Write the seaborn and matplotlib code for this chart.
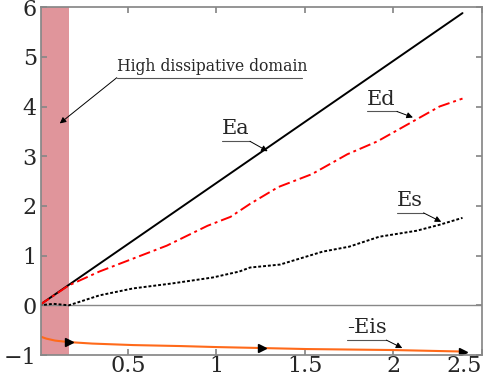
import pandas as pd
import seaborn as sns
import matplotlib.pyplot as plt

# Energy curves
t_ea = [0.0, 2.39]
ea = [0.0, 5.88]

t_ed = [0.0, 0.167, 0.34, 0.53, 0.72, 0.95, 1.08, 1.19, 1.35, 1.54, 1.74, 1.91, 2.11, 2.26, 2.39]
ed = [0.0, 0.40, 0.68, 0.94, 1.20, 1.60, 1.78, 2.04, 2.38, 2.64, 3.04, 3.30, 3.70, 4.00, 4.16]

t_es = [0.0, 0.08, 0.167, 0.34, 0.53, 0.75, 0.98, 1.13, 1.19, 1.36, 1.60, 1.75, 1.92, 2.13, 2.26, 2.39]
es = [0.0, 0.03, 0.0, 0.20, 0.34, 0.44, 0.56, 0.68, 0.76, 0.82, 1.08, 1.18, 1.38, 1.50, 1.62, 1.76]

t_eis = [0.0, 0.04, 0.09, 0.167, 0.30, 0.53, 0.80, 1.00, 1.26, 1.51, 2.00, 2.39]
eis = [-0.62, -0.67, -0.71, -0.74, -0.77, -0.80, -0.82, -0.84, -0.86, -0.88, -0.90, -0.93]
eis_arrows = [3, 8, 11]

domain_end = 0.167

sns.set_theme(style="ticks")
plt.rcParams["font.family"] = ["DejaVu Serif"]

fig = plt.figure(figsize=(4.85, 3.75), dpi=100)
ax = fig.add_axes([0.0845, 0.0533, 0.9093, 0.9277])

ax.axvspan(0, domain_end, color="#e0959b", zorder=0, lw=0)
ax.axhline(0, color="#888888", lw=1, zorder=1)

sns.lineplot(x=t_ea, y=ea, ax=ax, color="black", lw=1.4)
sns.lineplot(x=t_ed, y=ed, ax=ax, color="red", lw=1.4, linestyle=(0, (6, 2, 1.5, 2)))
sns.lineplot(x=t_es, y=es, ax=ax, color="black", lw=1.4, linestyle=(0, (1.5, 1)))
ax.plot(t_eis, eis, color="#ff6a1a", lw=1.5)
ax.plot([t_eis[i] for i in eis_arrows], [eis[i] for i in eis_arrows],
        ls="none", marker=">", color="black", ms=6)

ax.set_xlim(0.01, 2.5)
ax.set_ylim(-0.96, 6.0)
ax.set_xticks([0.5, 1, 1.5, 2, 2.5])
ax.set_xticklabels(["0.5", "1", "1.5", "2", "2.5"])
ax.get_xticklabels()[-1].set_horizontalalignment("right")
ax.set_yticks([-1, 0, 1, 2, 3, 4, 5, 6])
ax.tick_params(direction="in", top=True, right=True, labelsize=16, color="#888888",
               length=4, pad=3)
ax.tick_params(axis="x", pad=0)
for s in ax.spines.values():
    s.set_color("#888888")

# labels with underline and leader arrow
labels = [
    ("High dissipative domain", 0.438, 1.483, 4.58, "left", (0.116, 3.66), 12.5),
    ("Ea", 1.03, 1.19, 3.30, "right", (1.29, 3.10), 15),
    ("Ed", 1.85, 2.02, 3.90, "right", (2.11, 3.78), 15),
    ("Es", 2.02, 2.17, 1.86, "right", (2.27, 1.68), 15),
    ("-Eis", 1.74, 1.96, -0.70, "right", (2.05, -0.86), 15),
]
for txt, x0, x1, y, side, tip, fs in labels:
    ax.text(x0, y + 0.06, txt, fontsize=fs, ha="left", va="bottom",
            fontstretch="condensed" if side == "left" else "normal")
    ax.plot([x0, x1], [y, y], color="#555555", lw=0.8)
    start = (x0, y) if side == "left" else (x1, y)
    ax.annotate("", xy=tip, xytext=start,
                arrowprops=dict(arrowstyle="-|>", color="black", lw=0.7,
                                mutation_scale=9, shrinkA=0, shrinkB=0))

plt.savefig("out.png", dpi=100)
plt.close()
